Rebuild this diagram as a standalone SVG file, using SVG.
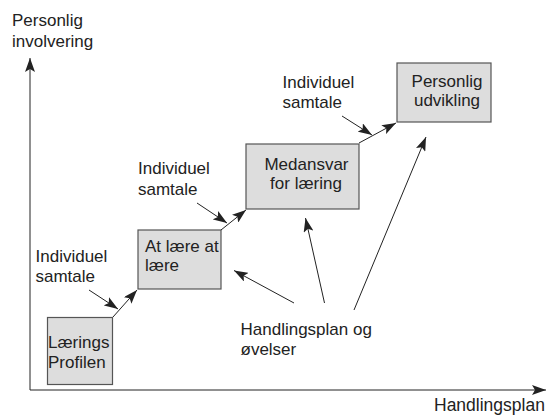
<svg xmlns="http://www.w3.org/2000/svg" width="547" height="415" viewBox="0 0 547 415">
<defs>
<style>
text{font-family:"Liberation Sans",Arial,sans-serif;font-size:17px;fill:#222}
.box{fill:#dddddd;stroke:#555;stroke-width:1.2}
.c{stroke:#222;stroke-width:1;fill:none;marker-end:url(#ah)}
.m{text-anchor:middle}
</style>
<marker id="ah" viewBox="0 0 14 10" refX="14" refY="5" markerWidth="14" markerHeight="10" markerUnits="userSpaceOnUse" orient="auto">
<path d="M0,0 L14,5 L0,10 L3,5 z" fill="#222"/>
</marker>
</defs>
<rect width="547" height="415" fill="#fff"/>
<g id="axes">
<line class="c" x1="30" y1="390" x2="30" y2="58"/>
<line class="c" x1="30" y1="390" x2="546" y2="390"/>
<text x="12" y="26">Personlig</text>
<text x="12" y="47">involvering</text>
<text x="434" y="411" style="font-size:17.5px">Handlingsplan</text>
</g>
<g id="n1">
<rect class="box" x="47.5" y="317.5" width="65" height="67"/>
<text x="48" y="348">Lærings</text>
<text x="48" y="368">Profilen</text>
</g>
<g id="n2">
<rect class="box" x="138" y="230" width="83" height="59"/>
<text x="145" y="252">At lære at</text>
<text x="145" y="271">lære</text>
</g>
<g id="n3">
<rect class="box" x="246" y="144" width="113" height="65"/>
<text class="m" x="306.5" y="170">Medansvar</text>
<text class="m" x="306" y="189">for læring</text>
</g>
<g id="n4">
<rect class="box" x="397" y="63" width="94" height="59"/>
<text class="m" x="447" y="87">Personlig</text>
<text class="m" x="447" y="106">udvikling</text>
</g>
<g id="labels">
<text x="35.5" y="262">Individuel</text>
<text x="35.5" y="282">samtale</text>
<text x="138" y="174">Individuel</text>
<text x="138" y="195">samtale</text>
<text x="282.5" y="88">Individuel</text>
<text x="282.5" y="108">samtale</text>
<text x="240.5" y="335">Handlingsplan og</text>
<text x="240.5" y="355">øvelser</text>
</g>
<g id="connectors">
<line class="c" x1="113" y1="317" x2="137" y2="290"/>
<line class="c" x1="89" y1="290" x2="118" y2="309"/>
<line class="c" x1="221" y1="230" x2="246" y2="210"/>
<line class="c" x1="197" y1="203" x2="227" y2="223"/>
<line class="c" x1="359" y1="143" x2="396" y2="123"/>
<line class="c" x1="342" y1="116" x2="372" y2="135"/>
<line class="c" x1="294" y1="303" x2="234" y2="270.5"/>
<line class="c" x1="324.5" y1="303" x2="305.5" y2="218"/>
<line class="c" x1="354" y1="310" x2="426" y2="137"/>
</g>
</svg>
